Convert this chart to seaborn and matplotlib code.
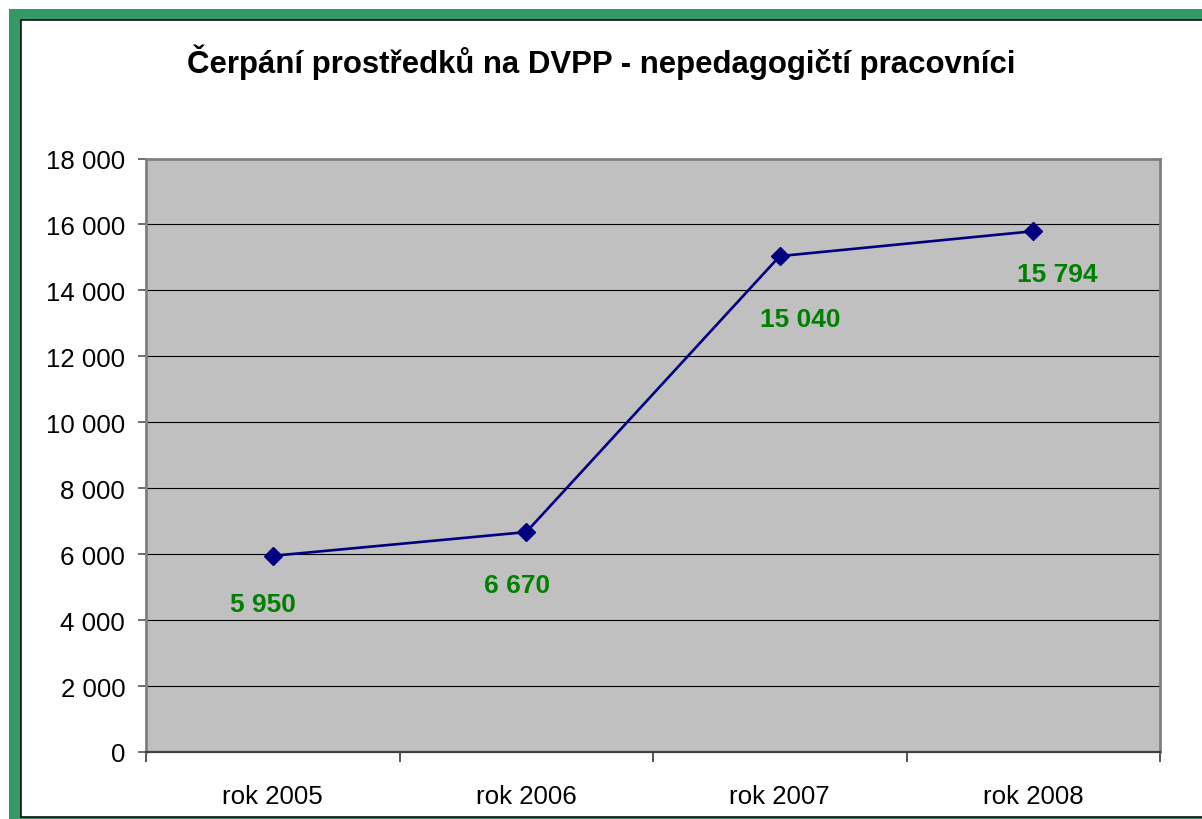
import matplotlib
matplotlib.use("Agg")
import matplotlib.pyplot as plt
import matplotlib.patches as patches
from matplotlib.ticker import FuncFormatter, FixedLocator, NullLocator
import pandas as pd
import seaborn as sns

# chart values
years = ["rok 2005", "rok 2006", "rok 2007", "rok 2008"]
amounts = [5950, 6670, 15040, 15794]
value_labels = ["5 950", "6 670", "15 040", "15 794"]
# where each data label sits relative to its marker (points)
label_offsets = [(-7, -40), (-6.5, -43), (15, -50), (17.5, -36)]

title = "Čerpání prostředků na DVPP - nepedagogičtí pracovníci"


def thousands(v, pos):
    """Formats 18000 as '18 000'"""
    return f"{v:,.0f}".replace(",", " ")


def draw_frame(fig):
    """Green band with a thin black line around the white chart area"""
    W, H = 1202, 820
    green = patches.Rectangle((9 / W, -0.05), 1.2, (H - 10) / H + 0.05,
                              transform=fig.transFigure, facecolor="#339966",
                              edgecolor="none", zorder=-2)
    inner = patches.Rectangle((20.5 / W, 2 / H), 1.2, (H - 21 - 2) / H,
                              transform=fig.transFigure, facecolor="white",
                              edgecolor="black", linewidth=1.1, zorder=-1)
    fig.patches.extend([green, inner])


def main():
    sns.set_theme(style="white")
    plt.rcParams["font.family"] = ["Liberation Sans", "DejaVu Sans"]

    df = pd.DataFrame({"rok": years, "castka": amounts})

    fig = plt.figure(figsize=(12.02, 8.2), dpi=100)
    fig.patch.set_facecolor("white")
    draw_frame(fig)

    ax = fig.add_axes([146 / 1202, 67 / 820, (1160 - 146) / 1202,
                       (753 - 159.5) / 820])
    ax.set_facecolor("#C0C0C0")

    sns.lineplot(data=df, x="rok", y="castka", ax=ax, color="#000080",
                 linewidth=1.9, marker="D", markersize=9,
                 markeredgecolor="#000080", markerfacecolor="#000080",
                 markeredgewidth=1, sort=False, zorder=4)

    ax.set_xlim(-0.5, len(years) - 0.5)
    ax.set_ylim(0, 18000)
    ax.yaxis.set_major_locator(FixedLocator(range(0, 18001, 2000)))
    ax.yaxis.set_major_formatter(FuncFormatter(thousands))
    ax.yaxis.grid(True, color="black", linewidth=0.8)
    ax.set_axisbelow(True)

    ax.set_xticks(range(len(years)))
    ax.set_xticklabels(years)
    ax.xaxis.set_minor_locator(FixedLocator(
        [i - 0.5 for i in range(len(years) + 1)]))
    ax.yaxis.set_minor_locator(NullLocator())
    ax.tick_params(axis="x", which="major", length=0, pad=23,
                   labelsize=18.6, labelcolor="black")
    ax.tick_params(axis="x", which="minor", length=7, width=1.4,
                   color="#555555", bottom=True)
    ax.tick_params(axis="y", which="major", length=6, width=1.2,
                   color="#555555", pad=9, labelsize=18.6,
                   labelcolor="black", left=True)

    for side in ["top", "right", "left"]:
        ax.spines[side].set_color("#808080")
        ax.spines[side].set_linewidth(2)
    ax.spines["bottom"].set_color("#404040")
    ax.spines["bottom"].set_linewidth(1.6)

    ax.set_xlabel("")
    ax.set_ylabel("")

    for i, (val, txt) in enumerate(zip(amounts, value_labels)):
        ax.annotate(txt, (i, val), xytext=label_offsets[i],
                    textcoords="offset points", ha="center", va="baseline",
                    fontsize=19, fontweight="bold", color="#008000",
                    zorder=5)

    fig.text(601.5 / 1202, (820 - 73) / 820, title, ha="center",
             va="baseline", fontsize=22.4, fontweight="bold", color="black")

    fig.savefig("out.png", dpi=100)


if __name__ == "__main__":
    main()
